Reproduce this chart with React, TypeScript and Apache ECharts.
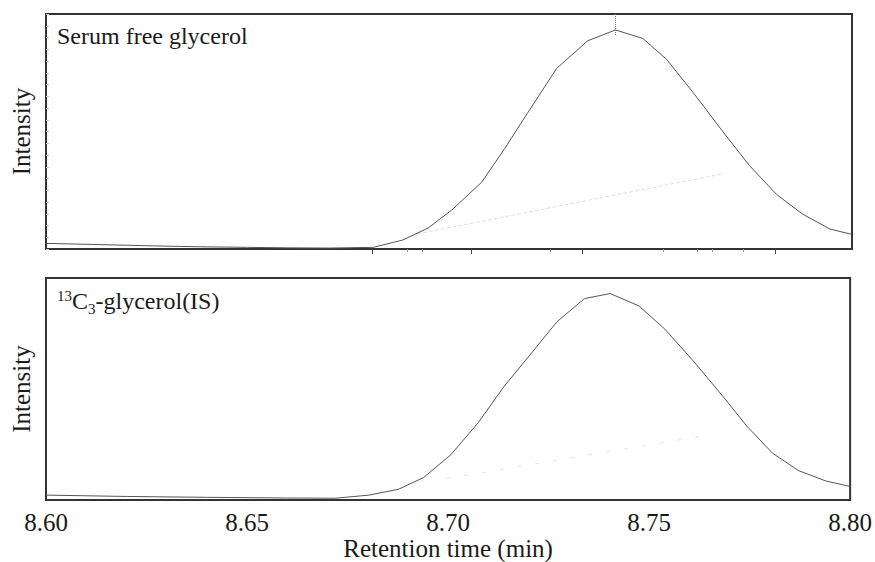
import React, { useEffect, useRef } from "react";
import * as echarts from "echarts";

// ---- data ----
const xTicks = [8.6, 8.65, 8.7, 8.75, 8.8];

const serumTime = [8.600, 8.610, 8.620, 8.630, 8.640, 8.650, 8.660, 8.670, 8.6812, 8.6885, 8.6948, 8.7007, 8.7081, 8.7138, 8.7194, 8.7267, 8.7344, 8.7413, 8.7481, 8.7540, 8.7608, 8.7677, 8.7745, 8.7813, 8.7877, 8.7945, 8.8000];
const serumIntensity = [2.4, 2.0, 1.6, 1.2, 0.9, 0.7, 0.5, 0.4, 0.7, 3.8, 8.9, 16.6, 28.4, 42.7, 57.6, 76.8, 88.6, 93.2, 89.6, 80.7, 66.1, 50.5, 35.6, 23.2, 14.9, 8.5, 6.2];
const serumPeakTime = 8.7413;
const serumBaselineTime = [8.6921, 8.7677];
const serumBaselineIntensity = [6.4, 31.9];

const isTime = [8.600, 8.620, 8.640, 8.660, 8.6720, 8.6803, 8.6876, 8.6939, 8.7007, 8.7075, 8.7139, 8.7203, 8.7271, 8.7339, 8.7403, 8.7475, 8.7539, 8.7612, 8.7684, 8.7743, 8.7807, 8.7871, 8.7939, 8.8000];
const isIntensity = [2.2, 1.6, 1.2, 0.9, 0.8, 2.2, 4.8, 10.1, 20.4, 34.8, 51.1, 65.2, 80.3, 90.7, 93.0, 87.4, 77.0, 62.2, 46.6, 33.3, 21.1, 13.3, 8.6, 6.1];
const isBaselineTime = [8.6996, 8.7636];
const isBaselineIntensity = [9.6, 28.9];

const topMajorTicks = [8.681, 8.7055, 8.733, 8.781];
const topMinorTicks = [8.6896, 8.6933, 8.7251, 8.7531, 8.7615, 8.7653, 8.773];

const FONT = "'Liberation Serif', 'Times New Roman', serif";
const TXT = "#1a1a1a";

const zip = (xs: number[], ys: number[]) => xs.map((x, i) => [x, ys[i]]);

export default function App() {
  const ref = useRef<HTMLDivElement>(null);
  useEffect(() => {
    if (!ref.current) return;
    const chart = echarts.init(ref.current, undefined, { renderer: "svg" });
    const gridBase = { left: 46, width: 806, show: true, borderColor: "#333", borderWidth: 2, backgroundColor: "#fff" };
    const xBase = {
      type: "value",
      min: xTicks[0],
      max: xTicks[xTicks.length - 1],
      interval: 0.05,
      splitLine: { show: false },
      axisLine: { show: false },
    };
    const option: any = {
      animation: false,
      backgroundColor: "#fff",
      grid: [
        { ...gridBase, top: 14, height: 235 },
        { ...gridBase, top: 278, height: 223 },
      ],
      xAxis: [
        {
          ...xBase,
          gridIndex: 0,
          position: "bottom",
          axisLabel: { show: false },
          axisTick: { show: true, inside: false, length: 5, customValues: topMajorTicks, lineStyle: { color: "#444", width: 1 } },
        },
        {
          ...xBase,
          gridIndex: 0,
          position: "bottom",
          axisLabel: { show: false },
          axisTick: { show: true, inside: false, length: 3, customValues: topMinorTicks, lineStyle: { color: "#999", width: 1 } },
        },
        {
          ...xBase,
          gridIndex: 1,
          position: "bottom",
          axisTick: { show: false },
          axisLabel: {
            show: true,
            fontFamily: FONT,
            fontSize: 25,
            color: TXT,
            margin: 10,
            formatter: (v: number) => v.toFixed(2),
          },
          name: "Retention time (min)",
          nameLocation: "middle",
          nameGap: 36,
          nameTextStyle: { fontFamily: FONT, fontSize: 25, color: TXT },
        },
      ],
      yAxis: [
        {
          type: "value",
          gridIndex: 0,
          min: 0,
          max: 100,
          interval: 5,
          axisLabel: { show: false },
          splitLine: { show: false },
          axisLine: { show: false },
          axisTick: { show: true, inside: true, length: 3, lineStyle: { color: "#c4c4c4" } },
          name: "Intensity",
          nameLocation: "middle",
          nameGap: 12,
          nameTextStyle: { fontFamily: FONT, fontSize: 25, color: TXT },
        },
        {
          type: "value",
          gridIndex: 1,
          min: 0,
          max: 100,
          axisLabel: { show: false },
          splitLine: { show: false },
          axisLine: { show: false },
          axisTick: { show: false },
          name: "Intensity",
          nameLocation: "middle",
          nameGap: 12,
          nameTextStyle: { fontFamily: FONT, fontSize: 25, color: TXT },
        },
      ],
      graphic: [
        {
          type: "text",
          left: 57,
          top: 24,
          style: { text: "Serum free glycerol", fontFamily: FONT, fontSize: 24, fill: TXT },
        },
        {
          type: "text",
          left: 57,
          top: 286,
          style: {
            text: "{sup|13}{main|C}{sub|3}{main|-glycerol(IS)}",
            fontFamily: FONT,
            fill: TXT,
            rich: {
              main: { fontFamily: FONT, fontSize: 24, lineHeight: 30, fill: TXT, color: TXT },
              sup: { fontFamily: FONT, fontSize: 15, lineHeight: 15, verticalAlign: "top", fill: TXT, color: TXT, padding: [2, 0, 0, 0] },
              sub: { fontFamily: FONT, fontSize: 15, lineHeight: 15, verticalAlign: "bottom", fill: TXT, color: TXT },
            },
          },
        },
      ],
      series: [
        {
          type: "line",
          xAxisIndex: 0,
          yAxisIndex: 0,
          data: zip(serumBaselineTime, serumBaselineIntensity),
          symbol: "none",
          lineStyle: { color: "#dedede", width: 1, type: "dashed" },
          silent: true,
          z: 1,
        },
        {
          type: "line",
          xAxisIndex: 0,
          yAxisIndex: 0,
          data: zip(serumTime, serumIntensity),
          symbol: "none",
          lineStyle: { color: "#555", width: 1 },
          z: 2,
          markLine: {
            silent: true,
            symbol: "none",
            label: { show: false },
            lineStyle: { color: "#777", type: "dotted", width: 1 },
            data: [[{ coord: [serumPeakTime, 100] }, { coord: [serumPeakTime, 91] }]],
          },
        },
        {
          type: "line",
          xAxisIndex: 2,
          yAxisIndex: 1,
          data: zip(isBaselineTime, isBaselineIntensity),
          symbol: "none",
          lineStyle: { color: "#e2e2e2", width: 1, type: [4, 14] },
          silent: true,
          z: 1,
        },
        {
          type: "line",
          xAxisIndex: 2,
          yAxisIndex: 1,
          data: zip(isTime, isIntensity),
          symbol: "none",
          lineStyle: { color: "#555", width: 1 },
          z: 2,
        },
      ],
    };
    chart.setOption(option);
    return () => chart.dispose();
  }, []);
  return (
    <div
      ref={ref}
      style={{ position: "fixed", left: 0, top: 0, width: 875, height: 562, background: "#fff" }}
    />
  );
}
